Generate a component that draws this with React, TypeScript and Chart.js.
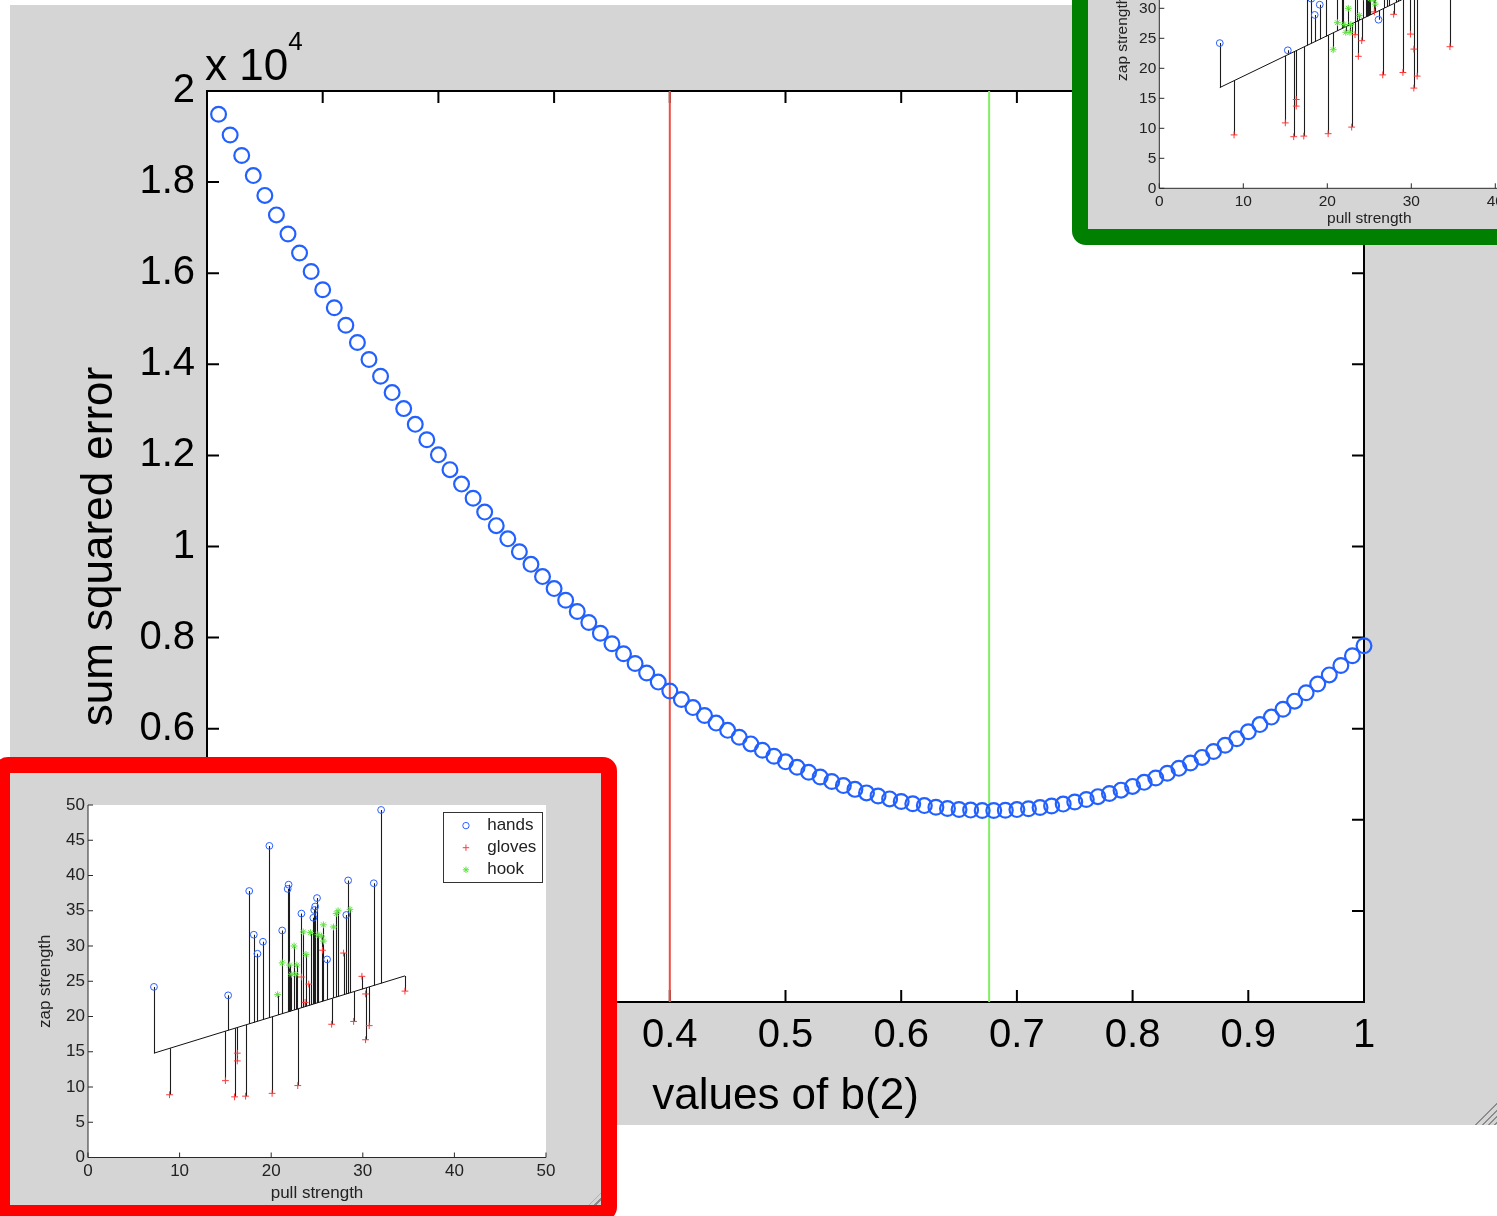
import React, { useEffect, useRef } from 'react';
import { Chart, registerables } from 'chart.js';

Chart.register(...registerables);

const FONT = '"Liberation Sans", Arial, Helvetica, sans-serif';
const PANEL_GRAY = '#d5d5d5';

// ---- sweep of the slope b(2) and the sum squared error it gives ----
const bValues = [
  0.01, 0.02, 0.03, 0.04, 0.05, 0.06, 0.07, 0.08, 0.09, 0.1,
  0.11, 0.12, 0.13, 0.14, 0.15, 0.16, 0.17, 0.18, 0.19, 0.2,
  0.21, 0.22, 0.23, 0.24, 0.25, 0.26, 0.27, 0.28, 0.29, 0.3,
  0.31, 0.32, 0.33, 0.34, 0.35, 0.36, 0.37, 0.38, 0.39, 0.4,
  0.41, 0.42, 0.43, 0.44, 0.45, 0.46, 0.47, 0.48, 0.49, 0.5,
  0.51, 0.52, 0.53, 0.54, 0.55, 0.56, 0.57, 0.58, 0.59, 0.6,
  0.61, 0.62, 0.63, 0.64, 0.65, 0.66, 0.67, 0.68, 0.69, 0.7,
  0.71, 0.72, 0.73, 0.74, 0.75, 0.76, 0.77, 0.78, 0.79, 0.8,
  0.81, 0.82, 0.83, 0.84, 0.85, 0.86, 0.87, 0.88, 0.89, 0.9,
  0.91, 0.92, 0.93, 0.94, 0.95, 0.96, 0.97, 0.98, 0.99, 1.0,
];
const sumSquaredError = [
  19489, 19033, 18584, 18143, 17708, 17280, 16859, 16445, 16037, 15637,
  15243, 14857, 14477, 14104, 13738, 13379, 13027, 12682, 12343, 12012,
  11687, 11370, 11059, 10755, 10458, 10168, 9884, 9608, 9339, 9076,
  8820, 8572, 8330, 8095, 7866, 7645, 7431, 7223, 7023, 6829,
  6642, 6463, 6290, 6123, 5964, 5812, 5666, 5528, 5396, 5272,
  5154, 5043, 4939, 4841, 4751, 4668, 4591, 4522, 4459, 4403,
  4354, 4312, 4277, 4249, 4227, 4213, 4205, 4204, 4211, 4224,
  4244, 4270, 4304, 4345, 4392, 4447, 4508, 4576, 4651, 4733,
  4822, 4918, 5021, 5130, 5247, 5370, 5500, 5637, 5781, 5932,
  6090, 6255, 6426, 6605, 6790, 6982, 7181, 7387, 7600, 7820,
];
const bFirstGuess = 0.4;
const bBestFit = 0.676;
const sseExponent = 4;
const sseMax = 20000;
const sseStep = 2000;
const bStep = 0.1;

// ---- zap strength against pull strength ----
const seriesLabels = ['hands', 'gloves', 'hook'];
const pullHands = [7.2, 15.3, 17.6, 18.1, 18.5, 19.1, 19.8, 21.2, 21.8, 21.9, 23.3, 24.6, 24.7, 24.8, 25.0, 26.1, 28.2, 28.4, 31.2, 32.0];
const zapHands = [24.2, 23.0, 37.8, 31.6, 28.9, 30.6, 44.2, 32.2, 38.1, 38.7, 34.6, 34.0, 35.1, 35.6, 36.8, 28.1, 34.4, 39.3, 38.9, 49.3];
const pullGloves = [8.9, 15.0, 16.0, 16.3, 16.3, 17.2, 20.1, 22.9, 23.3, 23.7, 24.1, 25.6, 26.6, 27.9, 29.0, 29.9, 30.3, 30.3, 30.7, 34.6];
const zapGloves = [8.9, 10.9, 8.6, 14.8, 13.7, 8.7, 9.1, 10.2, 25.6, 22.0, 24.6, 29.4, 18.9, 29.0, 19.3, 25.7, 23.2, 16.7, 18.7, 23.6];
const pullHook = [20.7, 21.2, 22.0, 22.2, 22.5, 22.7, 22.8, 23.5, 23.8, 24.3, 25.1, 25.5, 25.7, 25.7, 26.8, 27.1, 27.3, 28.6];
const zapHook = [23.1, 27.6, 27.3, 26.0, 30.0, 26.0, 27.3, 32.0, 28.8, 31.9, 31.6, 31.4, 33.0, 30.7, 32.7, 34.6, 35.0, 35.2];
const fitIntercept = 11.92;
const pullTickStep = 10;
const zapTickStep = 5;
const strengthMax = 50;

const CURVE_BLUE = 'rgb(34, 96, 255)';
const RED_LINE = 'rgb(238, 78, 70)';
const GREEN_LINE = 'rgb(128, 240, 96)';
const HANDS_BLUE = 'rgb(44, 96, 255)';
const GLOVES_RED = 'rgb(255, 58, 58)';
const HOOK_GREEN = 'rgb(92, 228, 60)';

const trim = (v: number, d: number) => String(+v.toFixed(d));

// white plotting area
const whitePlotArea = {
  id: 'whitePlotArea',
  beforeDraw(chart: any) {
    const { ctx, chartArea: a } = chart;
    ctx.save();
    ctx.fillStyle = '#fff';
    ctx.fillRect(a.left, a.top, a.right - a.left, a.bottom - a.top);
    ctx.restore();
  },
};

// axis lines with inward tick marks
function axesFrame(o: { color: string; width: number; tick: number; box: boolean; under: boolean }) {
  const draw = (chart: any) => {
    const { ctx, chartArea: a, scales } = chart;
    ctx.save();
    ctx.strokeStyle = o.color;
    ctx.lineWidth = o.width;
    ctx.beginPath();
    ctx.moveTo(a.left, a.top);
    ctx.lineTo(a.left, a.bottom);
    ctx.lineTo(a.right, a.bottom);
    if (o.box) {
      ctx.lineTo(a.right, a.top);
      ctx.closePath();
    }
    ctx.stroke();
    ctx.beginPath();
    for (const t of scales.x.ticks) {
      const px = scales.x.getPixelForValue(t.value);
      ctx.moveTo(px, a.bottom);
      ctx.lineTo(px, a.bottom - o.tick);
      if (o.box) {
        ctx.moveTo(px, a.top);
        ctx.lineTo(px, a.top + o.tick);
      }
    }
    for (const t of scales.y.ticks) {
      const py = scales.y.getPixelForValue(t.value);
      ctx.moveTo(a.left, py);
      ctx.lineTo(a.left + o.tick, py);
      if (o.box) {
        ctx.moveTo(a.right, py);
        ctx.lineTo(a.right - o.tick, py);
      }
    }
    ctx.stroke();
    ctx.restore();
  };
  return o.under
    ? { id: 'axesFrame', beforeDatasetsDraw: draw }
    : { id: 'axesFrame', afterDatasetsDraw: draw };
}

// "x 10^4" multiplier above the y axis
const exponentLabel = {
  id: 'exponentLabel',
  afterDraw(chart: any) {
    const { ctx, chartArea: a } = chart;
    ctx.save();
    ctx.fillStyle = '#000';
    ctx.textBaseline = 'alphabetic';
    ctx.textAlign = 'left';
    ctx.font = `44px ${FONT}`;
    const base = 'x 10';
    ctx.fillText(base, a.left - 2, a.top - 11);
    const w = ctx.measureText(base).width;
    ctx.font = `26px ${FONT}`;
    ctx.fillText(String(sseExponent), a.left - 2 + w, a.top - 41);
    ctx.restore();
  },
};

// vertical stems from each observation to the fitted line
function residualStems(slope: number, fitIndex: number) {
  return {
    id: 'residualStems',
    beforeDatasetsDraw(chart: any) {
      const { ctx, chartArea: a, scales } = chart;
      const { x, y } = scales;
      ctx.save();
      ctx.beginPath();
      ctx.rect(a.left, a.top, a.right - a.left, a.bottom - a.top);
      ctx.clip();
      ctx.strokeStyle = '#1c1c1c';
      ctx.lineWidth = 1.1;
      ctx.beginPath();
      chart.data.datasets.forEach((ds: any, i: number) => {
        if (i === fitIndex) return;
        ds.data.forEach((p: any) => {
          const px = Math.round(x.getPixelForValue(p.x)) + 0.5;
          ctx.moveTo(px, y.getPixelForValue(p.y));
          ctx.lineTo(px, y.getPixelForValue(fitIntercept + slope * p.x));
        });
      });
      ctx.stroke();
      ctx.restore();
    },
  };
}

function drawMarker(ctx: CanvasRenderingContext2D, style: string, x: number, y: number, r: number, color: string) {
  ctx.save();
  ctx.strokeStyle = color;
  ctx.lineWidth = 1;
  ctx.beginPath();
  if (style === 'circle') {
    ctx.arc(x, y, r, 0, Math.PI * 2);
  } else {
    ctx.moveTo(x - r, y);
    ctx.lineTo(x + r, y);
    ctx.moveTo(x, y - r);
    ctx.lineTo(x, y + r);
    if (style === 'star') {
      const d = r * Math.SQRT1_2;
      ctx.moveTo(x - d, y - d);
      ctx.lineTo(x + d, y + d);
      ctx.moveTo(x - d, y + d);
      ctx.lineTo(x + d, y - d);
    }
  }
  ctx.stroke();
  ctx.restore();
}

// boxed legend in the upper right of the axes
function boxedLegend(fontSize: number, markerR: number) {
  return {
    id: 'boxedLegend',
    afterDatasetsDraw(chart: any) {
      const { ctx, chartArea: a } = chart;
      const w = Math.round(fontSize * 5.8);
      const h = Math.round(fontSize * 4.1);
      const left = Math.round(a.right - fontSize * 0.25 - w);
      const top = Math.round(a.top + fontSize * 0.4);
      ctx.save();
      ctx.fillStyle = '#fff';
      ctx.fillRect(left, top, w, h);
      ctx.strokeStyle = '#333';
      ctx.lineWidth = 1;
      ctx.strokeRect(left + 0.5, top + 0.5, w, h);
      ctx.font = `${fontSize}px ${FONT}`;
      ctx.textBaseline = 'middle';
      ctx.textAlign = 'left';
      seriesLabels.forEach((label, i) => {
        const ds = chart.data.datasets[i];
        const cy = top + fontSize * (0.8 + 1.3 * i);
        drawMarker(ctx, ds.pointStyle, left + fontSize * 1.35, cy, markerR, ds.borderColor);
        ctx.fillStyle = '#222';
        ctx.fillText(label, left + fontSize * 2.6, cy);
      });
      ctx.restore();
    },
  };
}

function SseChart() {
  const ref = useRef<HTMLCanvasElement>(null);
  useEffect(() => {
    const chart = new Chart(ref.current as HTMLCanvasElement, {
      type: 'scatter',
      data: {
        datasets: [
          {
            label: 'sum squared error',
            data: bValues.map((b, i) => ({ x: b, y: sumSquaredError[i] })),
            pointStyle: 'circle',
            pointRadius: 7.4,
            pointBorderWidth: 2.2,
            borderColor: CURVE_BLUE,
            backgroundColor: 'rgba(0,0,0,0)',
            clip: false,
            order: 1,
          } as any,
          {
            type: 'line',
            label: 'b(2) = 0.4',
            data: [{ x: bFirstGuess, y: 0 }, { x: bFirstGuess, y: sseMax }],
            borderColor: RED_LINE,
            borderWidth: 2,
            pointRadius: 0,
            order: 2,
          } as any,
          {
            type: 'line',
            label: 'best b(2)',
            data: [{ x: bBestFit, y: 0 }, { x: bBestFit, y: sseMax }],
            borderColor: GREEN_LINE,
            borderWidth: 2,
            pointRadius: 0,
            order: 3,
          } as any,
        ],
      },
      options: {
        animation: false,
        responsive: false,
        devicePixelRatio: 1,
        layout: { padding: { left: 0, top: 86, right: 133, bottom: 0 } },
        plugins: { legend: { display: false }, tooltip: { enabled: false } },
        scales: {
          x: {
            type: 'linear',
            min: 0,
            max: 1,
            grid: { display: false, drawTicks: false },
            border: { display: false },
            ticks: {
              stepSize: bStep,
              autoSkip: false,
              maxRotation: 0,
              padding: 10,
              color: '#000',
              font: { family: FONT, size: 40 },
              callback: (v: any) => trim(Number(v), 1),
            },
            title: {
              display: true,
              text: 'values of b(2)',
              color: '#000',
              font: { family: FONT, size: 44 },
              padding: { top: 0, bottom: 2 },
            },
            afterFit: (s: any) => { s.height = 123; },
          },
          y: {
            type: 'linear',
            min: 0,
            max: sseMax,
            grid: { display: false, drawTicks: false },
            border: { display: false },
            ticks: {
              stepSize: sseStep,
              autoSkip: false,
              padding: 12,
              color: '#000',
              font: { family: FONT, size: 40 },
              callback: (v: any) => trim(Number(v) / Math.pow(10, sseExponent), 1),
            },
            title: {
              display: true,
              text: 'sum squared error',
              color: '#000',
              font: { family: FONT, size: 44 },
              padding: { top: 63, bottom: 0 },
            },
            afterFit: (s: any) => { s.width = 197; },
          },
        },
      } as any,
      plugins: [whitePlotArea, axesFrame({ color: '#000', width: 2, tick: 12, box: true, under: true }), exponentLabel],
    });
    return () => chart.destroy();
  }, []);
  return <canvas ref={ref} width={1487} height={1120} style={{ position: 'absolute', left: 0, top: 0 }} />;
}

type InsetLayout = {
  width: number;
  height: number;
  axisLeft: number;
  axisBottom: number;
  padTop: number;
  padRight: number;
  font: number;
  yTitlePad: number;
  xTitlePad: number;
  xTickPad: number;
  yTickPad: number;
};

function StrengthInset({ slope, layout }: { slope: number; layout: InsetLayout }) {
  const ref = useRef<HTMLCanvasElement>(null);
  useEffect(() => {
    const fit = (x: number) => fitIntercept + slope * x;
    const allPull = [...pullHands, ...pullGloves, ...pullHook];
    const xLo = Math.min(...allPull);
    const xHi = Math.max(...allPull);
    const pts = (xs: number[], ys: number[]) => xs.map((x, i) => ({ x, y: ys[i] }));
    const markerR = 3.4;
    const series = (label: string, data: any[], style: string, color: string) => ({
      label,
      data,
      pointStyle: style,
      pointRadius: markerR,
      pointBorderWidth: 1,
      borderColor: color,
      backgroundColor: 'rgba(0,0,0,0)',
      clip: false,
      order: 1,
    });
    const tickFont = { family: FONT, size: layout.font };
    const chart = new Chart(ref.current as HTMLCanvasElement, {
      type: 'scatter',
      data: {
        datasets: [
          series(seriesLabels[0], pts(pullHands, zapHands), 'circle', HANDS_BLUE),
          series(seriesLabels[1], pts(pullGloves, zapGloves), 'cross', GLOVES_RED),
          series(seriesLabels[2], pts(pullHook, zapHook), 'star', HOOK_GREEN),
          {
            type: 'line',
            label: 'fit',
            data: [{ x: xLo, y: fit(xLo) }, { x: xHi, y: fit(xHi) }],
            borderColor: '#111',
            borderWidth: 1,
            pointRadius: 0,
            order: 5,
          },
        ] as any,
      },
      options: {
        animation: false,
        responsive: false,
        devicePixelRatio: 1,
        layout: { padding: { left: 0, top: layout.padTop, right: layout.padRight, bottom: 0 } },
        plugins: { legend: { display: false }, tooltip: { enabled: false } },
        scales: {
          x: {
            type: 'linear',
            min: 0,
            max: strengthMax,
            grid: { display: false, drawTicks: false },
            border: { display: false },
            ticks: {
              stepSize: pullTickStep,
              autoSkip: false,
              maxRotation: 0,
              padding: layout.xTickPad,
              color: '#222',
              font: tickFont,
            },
            title: {
              display: true,
              text: 'pull strength',
              color: '#222',
              font: tickFont,
              padding: { top: 0, bottom: layout.xTitlePad },
            },
            afterFit: (s: any) => { s.height = layout.axisBottom; },
          },
          y: {
            type: 'linear',
            min: 0,
            max: strengthMax,
            grid: { display: false, drawTicks: false },
            border: { display: false },
            ticks: {
              stepSize: zapTickStep,
              autoSkip: false,
              padding: layout.yTickPad,
              color: '#222',
              font: tickFont,
            },
            title: {
              display: true,
              text: 'zap strength',
              color: '#222',
              font: tickFont,
              padding: { top: layout.yTitlePad, bottom: 0 },
            },
            afterFit: (s: any) => { s.width = layout.axisLeft; },
          },
        },
      } as any,
      plugins: [
        whitePlotArea,
        residualStems(slope, 3),
        axesFrame({ color: '#2a2a2a', width: 1, tick: 5, box: false, under: false }),
        boxedLegend(layout.font, 3.2),
      ],
    });
    return () => chart.destroy();
  }, []);
  return (
    <canvas
      ref={ref}
      width={layout.width}
      height={layout.height}
      style={{ position: 'absolute', left: 0, top: 0 }}
    />
  );
}

function Grip({ size }: { size: number }) {
  return (
    <div
      style={{
        position: 'absolute',
        right: 0,
        bottom: 0,
        width: size,
        height: size,
        background: 'repeating-linear-gradient(135deg, transparent 0px, transparent 3px, #8c8c8c 3px, #8c8c8c 4.5px)',
        clipPath: 'polygon(100% 0, 100% 100%, 0 100%)',
      }}
    />
  );
}

const redInsetLayout: InsetLayout = {
  width: 591,
  height: 432,
  axisLeft: 78,
  axisBottom: 47.5,
  padTop: 32,
  padRight: 55,
  font: 17,
  yTitlePad: 25.5,
  xTitlePad: 1.5,
  xTickPad: 3.5,
  yTickPad: 3,
};

const greenInsetLayout: InsetLayout = {
  width: 541,
  height: 369,
  axisLeft: 71.3,
  axisBottom: 40.7,
  padTop: 28.3,
  padRight: 49.7,
  font: 15.5,
  yTitlePad: 25,
  xTitlePad: 0.5,
  xTickPad: 4,
  yTickPad: 3,
};

export default function App() {
  return (
    <div
      style={{
        position: 'fixed',
        left: 0,
        top: 0,
        width: 1497,
        height: 1216,
        overflow: 'hidden',
        background: '#fff',
      }}
    >
      <div style={{ position: 'absolute', left: 10, top: 5, width: 1487, height: 1120, background: PANEL_GRAY }}>
        <SseChart />
        <Grip size={26} />
      </div>
      <div
        style={{
          position: 'absolute',
          left: -6,
          top: 757,
          width: 591,
          height: 432,
          border: '16px solid #ff0000',
          borderRadius: 14,
          background: PANEL_GRAY,
        }}
      >
        <StrengthInset slope={bFirstGuess} layout={redInsetLayout} />
        <Grip size={12} />
      </div>
      <div
        style={{
          position: 'absolute',
          left: 1072,
          top: -156,
          width: 541,
          height: 369,
          border: '16px solid #008000',
          borderRadius: 14,
          background: PANEL_GRAY,
        }}
      >
        <StrengthInset slope={bBestFit} layout={greenInsetLayout} />
      </div>
    </div>
  );
}
